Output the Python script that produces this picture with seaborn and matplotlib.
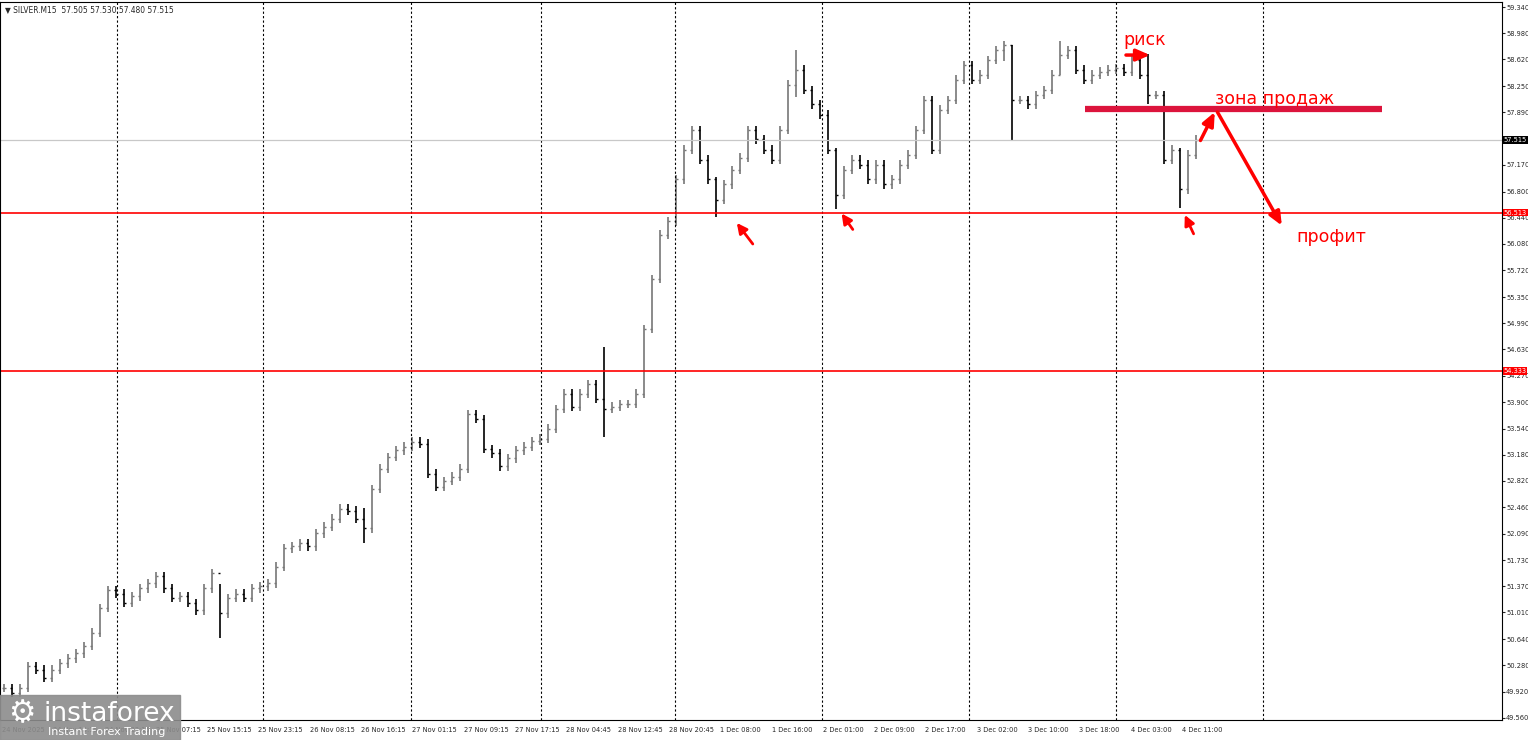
import numpy as np
import matplotlib
matplotlib.use('Agg')
import matplotlib.pyplot as plt
import matplotlib.patches as mpatches
import seaborn as sns

closes = [49.97, 49.90, 49.97, 50.27, 50.22, 50.11, 50.22, 50.31, 50.38, 50.45, 50.55, 50.73,
          51.07, 51.32, 51.27, 51.14, 51.23, 51.34, 51.41, 51.51, 51.34, 51.21, 51.23, 51.14,
          51.04, 51.34, 51.55, 51.00, 51.21, 51.27, 51.21, 51.34, 51.37, 51.41, 51.64, 51.89,
          51.92, 51.96, 51.92, 52.10, 52.19, 52.30, 52.44, 52.41, 52.30, 52.17, 52.71, 52.99,
          53.15, 53.24, 53.29, 53.36, 53.33, 52.92, 52.74, 52.82, 52.88, 52.99, 53.74, 53.67,
          53.26, 53.20, 53.02, 53.13, 53.24, 53.29, 53.37, 53.40, 53.54, 53.81, 54.02, 53.84,
          54.02, 54.15, 53.95, 53.81, 53.84, 53.88, 53.88, 54.02, 54.91, 55.60, 56.21, 56.39,
          56.97, 57.38, 57.65, 57.24, 56.97, 56.69, 56.90, 57.10, 57.27, 57.65, 57.52, 57.38,
          57.24, 57.65, 58.27, 58.48, 58.20, 58.00, 57.86, 57.38, 56.76, 57.10, 57.24, 57.17,
          56.97, 57.17, 56.90, 56.97, 57.17, 57.31, 57.65, 58.06, 57.38, 57.93, 58.06, 58.34,
          58.54, 58.34, 58.41, 58.61, 58.75, 58.82, 58.06, 58.06, 58.00, 58.13, 58.20, 58.41,
          58.68, 58.75, 58.48, 58.34, 58.41, 58.45, 58.48, 58.50, 58.45, 58.61, 58.41, 58.13,
          58.13, 57.24, 57.38, 56.83, 57.31, 57.515]
# notable wicks: bar index -> (high, low)
wicks = {27: (51.40, 50.66), 45: (52.45, 51.96), 75: (54.66, 53.43), 89: (57.00, 56.45),
         99: (58.75, 58.10), 104: (57.40, 56.56), 125: (58.88, 58.60), 126: (58.82, 57.50),
         132: (58.88, 58.40), 143: (58.70, 58.00), 147: (57.40, 56.58)}

yticks = [59.340, 58.980, 58.620, 58.250, 57.890, 57.530, 57.170, 56.800, 56.440, 56.080,
          55.720, 55.350, 54.990, 54.630, 54.270, 53.900, 53.540, 53.180, 52.820, 52.460,
          52.090, 51.730, 51.370, 51.010, 50.640, 50.280, 49.920, 49.560]
time_labels = ['24 Nov 2025', '24 Nov 15:15', '24 Nov 23:15', '25 Nov 07:15', '25 Nov 15:15',
               '25 Nov 23:15', '26 Nov 08:15', '26 Nov 16:15', '27 Nov 01:15', '27 Nov 09:15',
               '27 Nov 17:15', '28 Nov 04:45', '28 Nov 12:45', '28 Nov 20:45', '1 Dec 08:00',
               '1 Dec 16:00', '2 Dec 01:00', '2 Dec 09:00', '2 Dec 17:00', '3 Dec 02:00',
               '3 Dec 10:00', '3 Dec 18:00', '4 Dec 03:00', '4 Dec 11:00']
day_separators = [14.1, 32.4, 50.9, 67.1, 83.9, 102.2, 120.6, 139.0, 157.4]
level_hi = 56.513
level_lo = 54.333
last_price = 57.515
sell_zone = 57.94

sns.set_style('white')
plt.rcParams['font.family'] = ['DejaVu Sans']
plt.rcParams['font.stretch'] = 'condensed'

fig = plt.figure(figsize=(15.28, 7.40), dpi=100)
ax = fig.add_axes([0, 20 / 740, 1502 / 1528, 718 / 740])

opens = [closes[0]] + closes[:-1]
for i, (o, c) in enumerate(zip(opens, closes)):
    hi, lo = wicks.get(i, (max(o, c) + 0.06, min(o, c) - 0.06))
    col = '#777777' if c >= o else '#000000'
    ax.vlines(i, lo, hi, color=col, lw=1.2)
    ax.hlines(o, i - 0.3, i, color=col, lw=1.0)
    ax.hlines(c, i, i + 0.3, color=col, lw=1.0)

ax.set_xlim(-0.5, 187.25)
ax.set_ylim(49.53, 59.41)

for d in day_separators:
    ax.axvline(d, color='black', ls=(0, (2, 2)), lw=0.8)
ax.axhline(level_hi, color='red', lw=1.2)
ax.axhline(level_lo, color='red', lw=1.2)
ax.axhline(last_price, color='#c8c8c8', lw=0.9)

# annotations
ax.plot([135.1, 172.25], [sell_zone, sell_zone], color='#dc143c', lw=4.5, solid_capstyle='butt')
arrow = dict(arrowstyle='-|>,head_length=0.8,head_width=0.35', color='red', lw=2.5)
ax.annotate('', xy=(143.6, 58.68), xytext=(139.9, 58.68), arrowprops=arrow)
ax.annotate('', xy=(151.5, 57.93), xytext=(149.4, 57.47), arrowprops=arrow)
ax.annotate('', xy=(159.9, 56.30), xytext=(151.5, 57.93), arrowprops=arrow)
small = dict(arrowstyle='-|>,head_length=0.6,head_width=0.3', color='red', lw=2,
             shrinkA=0, shrinkB=0)
ax.annotate('', xy=(91.6, 56.37), xytext=(93.6, 56.08), arrowprops=small)
ax.annotate('', xy=(104.7, 56.50), xytext=(106.1, 56.28), arrowprops=small)
ax.annotate('', xy=(147.6, 56.48), xytext=(148.7, 56.22), arrowprops=small)
for xx, yy, t in [(139.9, 58.89, 'риск'), (151.4, 58.08, 'зона продаж'), (161.6, 56.17, 'профит')]:
    ax.text(xx, yy, t, color='red', fontsize=12.5, va='center', fontstretch='normal')

# axes / ticks
ax.yaxis.tick_right()
ax.set_yticks(yticks)
ax.set_yticklabels([f'{v:.3f}' for v in yticks], fontsize=5.3)
ax.tick_params(axis='y', length=2, pad=1)
tick_pos = [(2 + k * 51.3 - 4) / 8 for k in range(len(time_labels))]
ax.set_xticks(tick_pos)
ax.set_xticklabels(time_labels, fontsize=5.3, ha='left')
ax.tick_params(axis='x', length=3, pad=2)
for s in ax.spines.values():
    s.set_color('black')
    s.set_linewidth(0.8)

for val, bg in [(level_hi, 'red'), (level_lo, 'red'), (last_price, 'black')]:
    ax.text(1.001, val, f'{val:.3f}', transform=ax.get_yaxis_transform(), fontsize=5.3,
            color='white', va='center', ha='left',
            bbox=dict(boxstyle='square,pad=0.12', fc=bg, ec='none'))

fig.text(5 / 1528, 1 - 10 / 740, '▼ SILVER.M15  57.505 57.530 57.480 57.515', fontsize=6,
         va='center')

# logo
fig.patches.append(mpatches.Rectangle((0, 0), 180 / 1528, 45 / 740, transform=fig.transFigure,
                                      color='#8c8c8c', alpha=0.9, zorder=5))
fig.text(8 / 1528, 26 / 740, '⚙', fontsize=22, color='white', va='center', zorder=6,
         fontstretch='normal')
fig.text(44 / 1528, 26 / 740, 'instaforex', fontsize=19, color='white', va='center', zorder=6,
         fontstretch='normal')
fig.text(48 / 1528, 8 / 740, 'Instant Forex Trading', fontsize=8, color='white', va='center',
         zorder=6, fontstretch='normal')

fig.savefig('out.png', dpi=100)
